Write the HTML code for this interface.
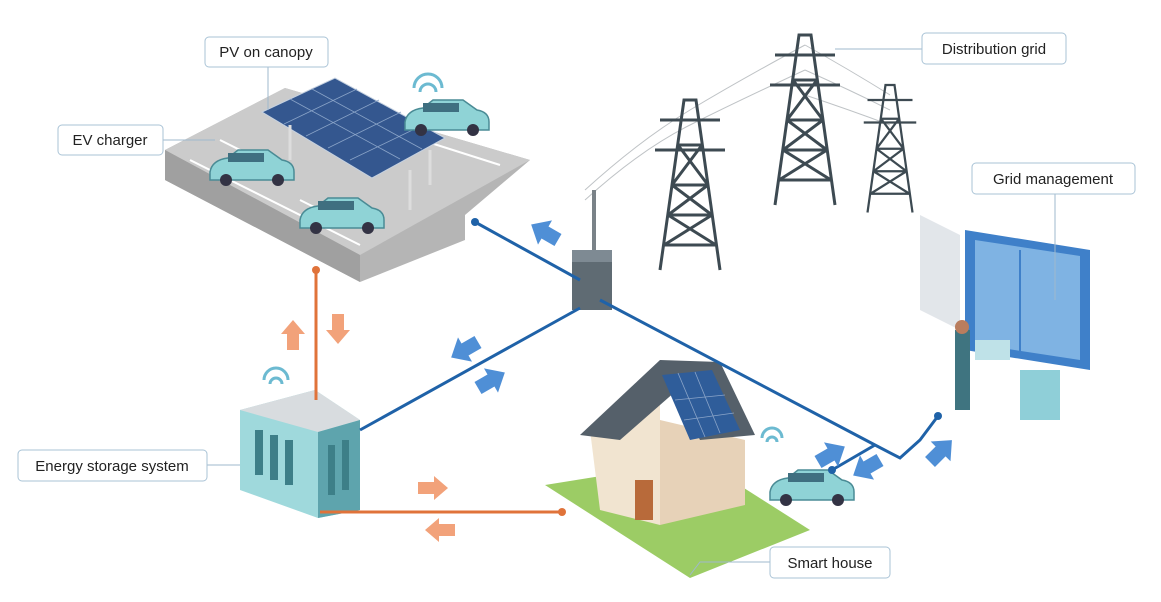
<!DOCTYPE html>
<html><head><meta charset="utf-8"><style>
html,body{margin:0;padding:0;background:#fff;width:1161px;height:602px;overflow:hidden}
svg{display:block}
text{font-family:"Liberation Sans",sans-serif;font-size:15px;fill:#222}
</style></head><body>
<svg width="1161" height="602" viewBox="0 0 1161 602">
<defs>
<g id="car"><path d="M0 22 q2-12 18-14 l10-8 h30 l14 10 q12 2 12 12 v8 h-84z" fill="#8fd3d6" stroke="#4a8b95" stroke-width="1.5"/><rect x="18" y="3" width="36" height="9" fill="#3f6f80"/><circle cx="16" cy="30" r="6" fill="#334"/><circle cx="68" cy="30" r="6" fill="#334"/></g>
<g id="tower" fill="none" stroke="#3d4a52" stroke-width="3"><path d="M-30 170 L-6 0 L6 0 L30 170 M-18 85 L18 85 M-22 115 L22 115 M-12 45 L12 45 M-26 145 L26 145 M-18 85 L22 115 M18 85 L-22 115 M-22 115 L26 145 M22 115 L-26 145 M-12 45 L18 85 M12 45 L-18 85 M-30 20 H30 M-35 50 H35"/></g>
<g id="blue"><path d="M0 -7 h15 v-7 l16 14 -16 14 v-7 h-15z" fill="#4f8fd6"/></g>
<g id="or"><path d="M0 -6 h16 v-6 l14 12 -14 12 v-6 h-16z" fill="#f2a27a"/></g>
</defs>

<g stroke="#bfc3c6" stroke-width="1" fill="none">
<path d="M585 190 Q640 140 690 110 M585 200 Q640 150 690 125 M690 110 Q740 80 805 45 M690 125 Q740 100 805 70 M805 45 Q850 70 890 95 M805 70 Q850 90 890 110 M805 95 Q850 110 890 125"/>
</g>
<use href="#tower" x="690" y="100"/>
<use href="#tower" x="805" y="35"/>
<g transform="translate(890 85) scale(0.75)"><use href="#tower"/></g>

<rect x="592" y="190" width="4" height="70" fill="#7a8288"/>
<rect x="572" y="250" width="40" height="60" fill="#5f6b73"/><rect x="572" y="250" width="40" height="12" fill="#7e8a93"/>

<!-- canopy parking -->
<polygon points="165,150 285,88 530,160 465,215 465,240 360,282 165,180" fill="#b5b5b5"/>
<polygon points="165,150 285,88 530,160 360,255" fill="#cbcbcb"/>
<polygon points="165,150 360,255 360,282 165,180" fill="#a0a0a0"/>
<g stroke="#fff" stroke-width="2" fill="none"><path d="M190 160 L360 245 M220 140 L260 160 M300 200 L340 220 M390 130 L500 165"/></g>
<polygon points="262,112 335,78 445,138 372,178" fill="#34578f" stroke="#c5d1e0" stroke-width="1"/>
<g stroke="#8aa4c8" stroke-width="0.8"><path d="M284 124 L357 89 M306 136 L379 100 M328 148 L401 112 M350 160 L423 125 M290 99 L400 159 M312 89 L422 149"/></g>
<g stroke="#ddd" stroke-width="3"><path d="M290 125 V160 M410 170 V210 M430 150 V185"/></g>
<use href="#car" x="210" y="150"/><use href="#car" x="300" y="198"/><use href="#car" x="405" y="100"/>
<g fill="none" stroke="#6cbad1" stroke-width="3"><path d="M414 88 a12 12 0 0 1 28 0 M420 92 a6 6 0 0 1 16 0"/></g>

<!-- grid management -->
<polygon points="920,215 960,235 960,330 920,310" fill="#e2e6ea"/>
<polygon points="965,230 1090,250 1090,370 965,350" fill="#3f80c9"/>
<polygon points="975,240 1080,256 1080,360 975,344" fill="#7fb3e3"/>
<path d="M1020 250 V352" stroke="#3f80c9" stroke-width="2"/>
<rect x="955" y="330" width="15" height="80" fill="#3f7480"/><circle cx="962" cy="327" r="7" fill="#b97d5e"/>
<rect x="975" y="340" width="35" height="20" fill="#bfe2e8"/>
<rect x="1020" y="370" width="40" height="50" fill="#8fcfd8"/>

<!-- energy storage -->
<polygon points="240,410 315,390 360,420 360,510 318,518 240,490" fill="#9fd9dc"/>
<polygon points="240,410 315,390 360,420 318,432" fill="#d8dcdf"/>
<polygon points="318,432 360,420 360,510 318,518" fill="#5ea4ad"/>
<g fill="#3d7f88"><rect x="255" y="430" width="8" height="45"/><rect x="270" y="435" width="8" height="45"/><rect x="285" y="440" width="8" height="45"/><rect x="328" y="445" width="7" height="50"/><rect x="342" y="440" width="7" height="50"/></g>
<g fill="none" stroke="#6cbad1" stroke-width="3"><path d="M264 380 a12 12 0 0 1 24 0 M270 384 a6 6 0 0 1 12 0"/></g>

<!-- house -->
<polygon points="545,485 700,460 810,530 690,578" fill="#9ccc65"/>
<polygon points="590,430 660,390 660,525 600,510" fill="#f1e4d0"/>
<polygon points="660,420 745,440 745,505 660,525" fill="#e7d2b8"/>
<polygon points="580,435 660,360 700,370 620,440" fill="#55606a"/>
<polygon points="660,360 720,362 755,435 700,440" fill="#55606a"/>
<polygon points="662,375 712,370 740,430 690,440" fill="#2f5d9a"/>
<g stroke="#8aa4c8" stroke-width="0.8"><path d="M675 400 L725 395 M684 420 L734 413 M678 373 L705 437 M695 372 L720 433"/></g>
<rect x="635" y="480" width="18" height="40" fill="#b86a3a"/>
<use href="#car" x="770" y="470"/>
<g fill="none" stroke="#6cbad1" stroke-width="3"><path d="M762 438 a10 10 0 0 1 20 0 M767 442 a5 5 0 0 1 10 0"/></g>

<g stroke="#1f62a8" stroke-width="3" fill="none">
<path d="M475 222 L580 280 M580 308 L360 430 M600 300 L875 445 L900 458 L920 440 L938 416 M832 470 L875 445"/>
</g>
<g fill="#1f62a8"><circle cx="475" cy="222" r="4"/><circle cx="938" cy="416" r="4"/><circle cx="832" cy="470" r="4"/></g>
<g stroke="#e0733a" stroke-width="3" fill="none"><path d="M316 270 V400 M320 512 H562"/></g>
<g fill="#e0733a"><circle cx="316" cy="270" r="4"/><circle cx="562" cy="512" r="4"/></g>

<g transform="translate(558 240) rotate(-150)"><use href="#blue"/></g>
<g transform="translate(478 342) rotate(150)"><use href="#blue"/></g>
<g transform="translate(478 388) rotate(-30)"><use href="#blue"/></g>
<g transform="translate(818 462) rotate(-30)"><use href="#blue"/></g>
<g transform="translate(880 460) rotate(150)"><use href="#blue"/></g>
<g transform="translate(930 462) rotate(-45)"><use href="#blue"/></g>
<g transform="translate(293 350) rotate(-90)"><use href="#or"/></g>
<g transform="translate(338 314) rotate(90)"><use href="#or"/></g>
<g transform="translate(418 488)"><use href="#or"/></g>
<g transform="translate(455 530) rotate(180)"><use href="#or"/></g>

<g stroke="#9fb8cc" stroke-width="1" fill="none">
<path d="M268 67 V110 M163 140 H215 M922 49 H835 M1055 194 V300 M770 562 H700 L690 575 M207 465 H240"/>
</g>

<g fill="#fff" stroke="#a9c3d6" stroke-width="1">
<rect x="205" y="37" width="123" height="30" rx="4"/>
<rect x="58" y="125" width="105" height="30" rx="4"/>
<rect x="922" y="33" width="144" height="31" rx="4"/>
<rect x="972" y="163" width="163" height="31" rx="4"/>
<rect x="18" y="450" width="189" height="31" rx="4"/>
<rect x="770" y="547" width="120" height="31" rx="4"/>
</g>
<text x="266" y="57" text-anchor="middle">PV on canopy</text>
<text x="110" y="145" text-anchor="middle">EV charger</text>
<text x="994" y="54" text-anchor="middle">Distribution grid</text>
<text x="1053" y="184" text-anchor="middle">Grid management</text>
<text x="112" y="471" text-anchor="middle">Energy storage system</text>
<text x="830" y="568" text-anchor="middle">Smart house</text>
</svg>
</body></html>
